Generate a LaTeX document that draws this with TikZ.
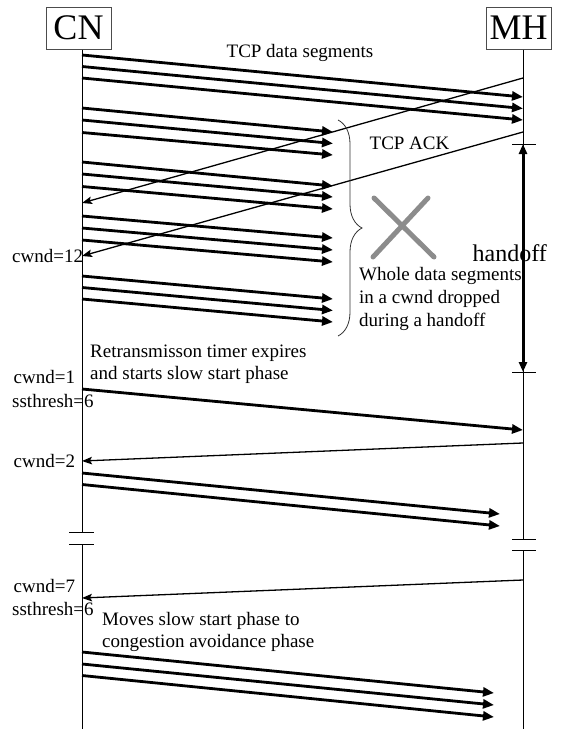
\documentclass[tikz,border=0pt]{standalone}
\usepackage{fontspec}
\setmainfont{Liberation Serif}
\usetikzlibrary{arrows.meta,decorations.pathreplacing}
\begin{document}
\begin{tikzpicture}[x=1pt,y=-1pt,
  entity/.style={draw=black!70, line width=1pt, minimum width=65pt, minimum height=42pt,
    inner sep=0pt, font=\fontsize{36}{40}\selectfont},
  lifeline/.style={line width=0.9pt},
  datamsg/.style={line width=2.8pt, -{Triangle[length=11pt,width=9pt]}},
  ackmsg/.style={line width=1.3pt, -{Stealth[length=10pt,width=7.5pt,inset=2pt]}},
  lbl/.style={font=\fontsize{19}{22}\selectfont, inner sep=0pt, anchor=west, align=left},
  breaktick/.style={line width=1pt},
  dropmark/.style={draw=black!45, line width=5pt, line cap=round},
]
\useasboundingbox (0,0) rectangle (563,731);

% hosts
\node[entity] (cn) at (78.5,28) {CN};
\node[entity] (mh) at (518.5,28) {MH};

% lifelines, each broken once
\coordinate (cnA) at (82,532);  \coordinate (cnB) at (82,544);  \coordinate (cnEnd) at (82,729);
\coordinate (mhA) at (523,539); \coordinate (mhB) at (523,550); \coordinate (mhEnd) at (523,729);
\draw[lifeline] (cn.south -| cnA) -- (cnA);
\draw[lifeline] (cnB) -- (cnEnd);
\draw[lifeline] (mh.south -| mhA) -- (mhA);
\draw[lifeline] (mhB) -- (mhEnd);
\draw[breaktick] ([xshift=-13pt]cnA) -- ([xshift=12pt]cnA);
\draw[breaktick] ([xshift=-13pt]cnB) -- ([xshift=12pt]cnB);
\draw[breaktick] ([xshift=-11pt]mhA) -- ([xshift=13pt]mhA);
\draw[breaktick] ([xshift=-11pt]mhB) -- ([xshift=13pt]mhB);

% first window: delivered to MH
\foreach \i/\ys/\ye in {1/55/97, 2/66.5/108.5, 3/78/120} {
  \coordinate (fs\i) at (82,\ys);
  \coordinate (fe\i) at (523,\ye);
  \draw[datamsg] (fs\i) -- (fe\i);
}

% second window: dropped during the handoff
\foreach \i/\ys/\ye in {1/108/132, 2/120/143.5, 3/132.5/155,
                        4/162/186, 5/174/197, 6/186.5/209,
                        7/216/238, 8/228/250, 9/240/262,
                        10/276/299, 11/287.5/310.5, 12/299/322} {
  \coordinate (ds\i) at (82,\ys);
  \coordinate (de\i) at (333,\ye);
  \draw[datamsg] (ds\i) -- (de\i);
}

% acknowledgements of the first window
\coordinate (a1s) at (523,78);  \coordinate (a1e) at (82,203);
\coordinate (a2s) at (523,132); \coordinate (a2e) at (82,256);
\draw[ackmsg] (a1s) -- (a1e);
\draw[ackmsg] (a2s) -- (a2e);

\node[font=\fontsize{19}{22}\selectfont, inner sep=0pt] (tcpdata) at (300,53) {TCP data segments};
\node[font=\fontsize{19}{22}\selectfont, inner sep=0pt] (tcpack) at (409.5,143) {TCP ACK};

% brace over the lost window and the drop mark
\coordinate (brTop) at (338,120);
\coordinate (brBot) at (338,336);
\draw[black!80, line width=0.8pt, decorate, decoration={brace, amplitude=24pt}] (brTop) -- (brBot);
\draw[dropmark] (374,198) -- (434,257);
\draw[dropmark] (428,198) -- (373,257);
\node[lbl, font=\fontsize{19}{23}\selectfont] (lost) at (359,299)
  {Whole data segments\\in a cwnd dropped\\during a handoff};

% handoff period at MH
\coordinate (hoTop) at (523,144);
\coordinate (hoBot) at (523,372);
\draw[breaktick] ([xshift=-11pt]hoTop) -- ([xshift=13pt]hoTop);
\draw[breaktick] ([xshift=-11pt]hoBot) -- ([xshift=13pt]hoBot);
\draw[line width=3pt, {Triangle[length=10pt,width=8pt]}-{Triangle[length=10pt,width=8pt]}] (hoTop) -- (hoBot);
\node[font=\fontsize{24}{28}\selectfont, inner sep=0pt, anchor=west] (handoff) at (472.5,253) {handoff};

% window labels at CN
\node[lbl] (w12) at (12,256) {cwnd=12};
\node[lbl] (w1) at (13.5,377) {cwnd=1};
\node[lbl] (th1) at (12,401) {ssthresh=6};
\node[lbl] (w2) at (13.5,461) {cwnd=2};
\node[lbl] (w7) at (13.5,586) {cwnd=7};
\node[lbl] (th2) at (12,609) {ssthresh=6};

% slow start after the timeout
\node[lbl] (rto) at (90,364) {Retransmisson timer expires\\and starts slow start phase};
\coordinate (r1s) at (82,389);  \coordinate (r1e) at (523,430);
\draw[datamsg] (r1s) -- (r1e);
\coordinate (k1s) at (523,443); \coordinate (k1e) at (82,461);
\draw[ackmsg] (k1s) -- (k1e);
\foreach \i/\ys/\ye in {1/473/514, 2/484.5/526} {
  \coordinate (ss\i) at (82,\ys);
  \coordinate (se\i) at (500,\ye);
  \draw[datamsg] (ss\i) -- (se\i);
}

% congestion avoidance
\coordinate (k2s) at (523,580); \coordinate (k2e) at (82,598);
\draw[ackmsg] (k2s) -- (k2e);
\node[lbl] (ca) at (102,632) {Moves slow start phase to\\congestion avoidance phase};
\foreach \i/\ys/\ye in {1/652/693, 2/664/705, 3/675.5/717} {
  \coordinate (cs\i) at (82,\ys);
  \coordinate (ce\i) at (494,\ye);
  \draw[datamsg] (cs\i) -- (ce\i);
}
\end{tikzpicture}
\end{document}
